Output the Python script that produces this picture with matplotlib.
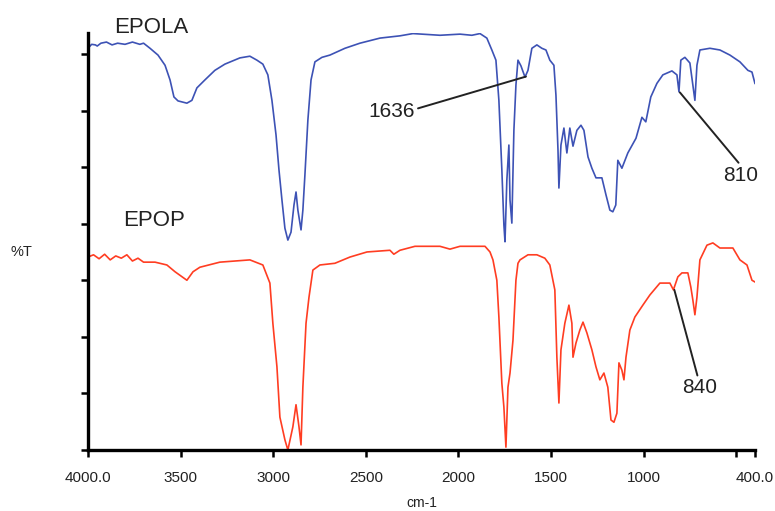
import matplotlib
matplotlib.use("Agg")
import matplotlib.pyplot as plt

plt.rcParams["font.family"] = ["Liberation Sans", "DejaVu Sans"]

# wavenumbers (cm-1) and %T readings, EPOLA (upper trace)
epola_wn = [4000, 3980, 3960, 3950, 3930, 3900, 3870, 3840, 3800, 3760, 3720, 3700,
            3665, 3640, 3622, 3584, 3557, 3536, 3514, 3466, 3439, 3412, 3369, 3315,
            3261, 3180, 3126, 3088, 3056, 3029, 3007, 2985, 2969, 2953, 2937, 2921,
            2904, 2888, 2877, 2867, 2850, 2840, 2829, 2813, 2796, 2775, 2737, 2694,
            2613, 2532, 2424, 2316, 2246, 2100, 1992, 1928, 1884, 1847, 1820, 1798,
            1782, 1766, 1755, 1749, 1739, 1728, 1722, 1712, 1701, 1690, 1679, 1663,
            1641, 1625, 1604, 1577, 1550, 1528, 1507, 1485, 1474, 1463, 1458, 1447,
            1431, 1415, 1399, 1382, 1361, 1339, 1323, 1301, 1280, 1258, 1226, 1204,
            1183, 1167, 1151, 1140, 1118, 1086, 1042, 1010, 989, 962, 929, 897,
            848, 821, 810, 800, 778, 751, 735, 724, 713, 697, 643, 589,
            535, 481, 438, 416, 400]
epola_t = [71.0, 71.7, 71.6, 71.4, 71.9, 72.1, 71.6, 71.9, 71.7, 72.1, 71.7, 71.9,
           71.0, 70.3, 69.8, 68.0, 65.4, 62.4, 61.7, 61.3, 61.8, 64.0, 65.4, 67.1,
           68.2, 69.3, 69.6, 68.9, 68.2, 66.3, 61.8, 55.7, 49.5, 44.2, 39.2, 37.1,
           38.5, 43.3, 45.6, 42.4, 38.9, 42.4, 48.6, 58.3, 65.4, 68.6, 69.4, 69.8,
           71.0, 71.9, 72.8, 73.2, 73.6, 73.3, 73.5, 73.3, 73.6, 72.8, 70.7, 68.9,
           61.8, 49.5, 39.8, 36.8, 47.7, 53.9, 44.2, 40.1, 56.5, 64.5, 68.9, 67.9,
           65.9, 67.1, 71.0, 71.6, 71.0, 70.7, 68.9, 68.0, 62.7, 53.0, 46.3, 53.9,
           56.9, 52.5, 56.9, 53.7, 56.5, 57.4, 56.5, 51.8, 49.8, 48.1, 48.1, 45.1,
           42.4, 42.1, 43.3, 51.2, 49.8, 52.5, 55.1, 58.8, 58.0, 62.4, 64.8, 66.3,
           67.0, 66.3, 63.3, 68.9, 69.4, 68.4, 64.5, 61.8, 68.0, 70.7, 71.0, 70.7,
           69.8, 68.6, 67.1, 66.8, 64.8]

# EPOP (lower trace)
epop_wn = [4000, 3970, 3940, 3910, 3880, 3850, 3820, 3790, 3760, 3730, 3700, 3638,
           3574, 3530, 3466, 3433, 3396, 3288, 3126, 3056, 3018, 3002, 2980, 2964,
           2937, 2921, 2894, 2877, 2861, 2850, 2840, 2823, 2807, 2786, 2748, 2667,
           2586, 2494, 2370, 2349, 2316, 2235, 2100, 2046, 1992, 1857, 1830, 1814,
           1793, 1782, 1766, 1755, 1744, 1733, 1722, 1706, 1690, 1679, 1668, 1625,
           1577, 1534, 1507, 1480, 1469, 1458, 1447, 1426, 1404, 1388, 1382, 1366,
           1345, 1328, 1307, 1280, 1258, 1237, 1215, 1194, 1177, 1161, 1145, 1134,
           1118, 1107, 1096, 1075, 1048, 1005, 967, 913, 859, 840, 816, 794,
           762, 746, 735, 724, 713, 697, 659, 627, 589, 519, 481, 443,
           416, 400]
epop_t = [34.1, 34.5, 33.8, 34.6, 33.6, 34.3, 33.9, 34.5, 33.4, 33.9, 33.2, 33.2,
          32.7, 31.5, 30.0, 31.5, 32.3, 33.2, 33.6, 32.7, 29.5, 22.4, 14.7, 5.8,
          1.8, 0.0, 4.1, 8.0, 4.1, 0.9, 11.1, 22.4, 27.0, 31.8, 32.7, 33.0,
          34.1, 35.0, 35.3, 34.6, 35.3, 36.0, 36.0, 35.5, 36.0, 36.0, 35.0, 33.6,
          30.0, 23.5, 11.8, 7.6, 0.5, 11.1, 13.6, 19.4, 30.0, 33.0, 33.6, 34.5,
          34.5, 33.9, 32.7, 28.3, 16.4, 8.3, 17.7, 22.4, 25.6, 22.4, 16.4, 18.9,
          21.2, 22.6, 20.7, 17.7, 14.7, 12.4, 13.6, 11.1, 5.3, 4.9, 6.5, 15.4,
          14.1, 12.4, 16.4, 21.2, 23.5, 25.6, 27.4, 29.5, 29.5, 28.3, 30.6, 31.3,
          31.3, 28.8, 26.5, 23.9, 27.0, 33.6, 36.2, 36.6, 35.7, 35.7, 33.6, 32.7,
          30.0, 29.7]

x_ticks = [4000, 3500, 3000, 2500, 2000, 1500, 1000, 500, 400]
x_tick_labels = ["4000.0", "3500", "3000", "2500", "2000", "1500", "1000", "", "400.0"]
y_ticks = [0, 10, 20, 30, 40, 50, 60, 70]

fig = plt.figure(figsize=(7.75, 5.11), dpi=100)
ax = fig.add_axes([0.1135, 0.1194, 0.8606, 0.816])

ax.plot(epola_wn, epola_t, color="#3d52b5", lw=1.2)
ax.plot(epop_wn, epop_t, color="#ff3d22", lw=1.2)

ax.set_xlim(4000, 400)
ax.set_ylim(0, 73.7)
ax.set_xticks(x_ticks)
ax.set_xticklabels(x_tick_labels, fontsize=11)
ax.set_yticks(y_ticks)
ax.set_yticklabels([])
ax.tick_params(axis="both", direction="out", length=5, width=1.8, color="black",
               labelcolor="#222222", pad=10)

for side in ("top", "right"):
    ax.spines[side].set_visible(False)
for side in ("left", "bottom"):
    ax.spines[side].set_linewidth(2.4)

ax.set_xlabel("cm-1", fontsize=10, color="#222222", labelpad=8)
fig.text(0.028, 0.507, "%T", fontsize=10.5, ha="center", va="center", color="#222222")

ax.text(3660, 74.7, "EPOLA", fontsize=16, ha="center", va="center", color="#222222",
        clip_on=False)
ax.text(3644, 40.6, "EPOP", fontsize=16, ha="center", va="center", color="#222222")

line_kw = dict(arrowstyle="-", color="#222222", lw=1.4, shrinkA=0, shrinkB=0)
ax.annotate("1636", xy=(1636, 66.0), xytext=(2359, 59.9), fontsize=15,
            ha="center", va="center", color="#222222",
            arrowprops=dict(relpos=(1.0, 0.6), **line_kw))
ax.annotate("810", xy=(805, 63.2), xytext=(476, 48.6), fontsize=15,
            ha="center", va="center", color="#222222",
            arrowprops=dict(relpos=(0.5, 1.0), **line_kw))
ax.annotate("840", xy=(835, 28.3), xytext=(697, 11.0), fontsize=15,
            ha="center", va="center", color="#222222",
            arrowprops=dict(relpos=(0.45, 1.0), **line_kw))

fig.savefig("out.png", dpi=100)
